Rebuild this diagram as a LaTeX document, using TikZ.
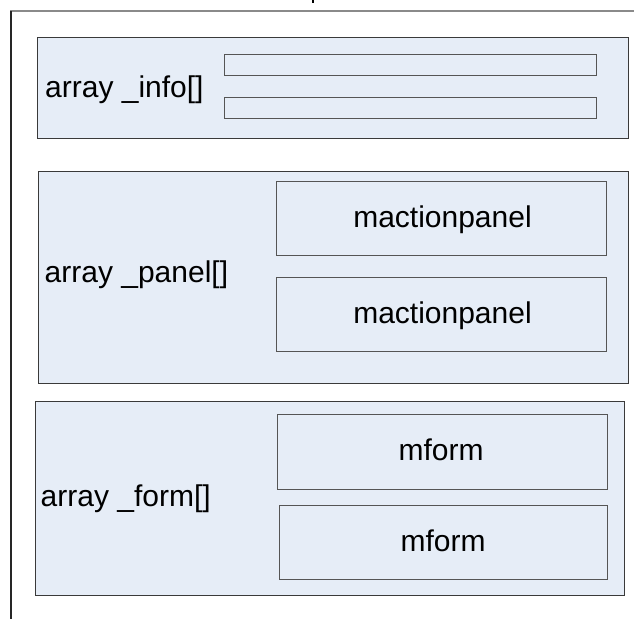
\documentclass[tikz,border=0pt]{standalone}
\usepackage{fontspec}
\setmainfont{Liberation Sans}
\begin{document}
\begin{tikzpicture}[x=1pt,y=-1pt,
  panelfill/.style={fill=boxblue},
  outerbox/.style={panelfill,draw=edgegray,line width=1.4pt},
  innerbox/.style={panelfill,draw=inneredge,line width=1.2pt},
  label/.style={font=\fontsize{30}{33}\selectfont,inner sep=0pt,text=black},
  centered/.style={label,text height=22pt,text depth=6pt}]
\definecolor{boxblue}{HTML}{E6EDF7}
\definecolor{edgegray}{HTML}{3A3A3A}
\definecolor{inneredge}{HTML}{555555}
\definecolor{framegray}{HTML}{8A8A8A}
\useasboundingbox (0,0) rectangle (634,619);
\fill[white] (0,0) rectangle (634,619);

% enclosing frame, cut at the top and the right
\draw[framegray,line width=2pt] (10,11) -- (634,11);
\draw[black!85,line width=1.4pt] (11,11) -- (11,619);
\draw[black,line width=2pt] (313,0) -- (313,3);

% array_info block
\node[outerbox,minimum width=591pt,minimum height=101pt,anchor=north west,inner sep=0pt] (info) at (37,37) {};
\node[innerbox,minimum width=372pt,minimum height=21pt,anchor=north west,inner sep=0pt] (info1) at (223.5,53.5) {};
\node[innerbox,minimum width=372pt,minimum height=21pt,anchor=north west,inner sep=0pt] (info2) at (223.5,96.5) {};
\node[label,anchor=base west] (infotext) at (45,97) {array \_info[]};

% array_panel block
\node[outerbox,minimum width=590pt,minimum height=212pt,anchor=north west,inner sep=0pt] (panel) at (37.5,170.5) {};
\node[innerbox,minimum width=330pt,minimum height=74pt,anchor=north west,inner sep=0pt] (panel1) at (276,181) {};
\node[innerbox,minimum width=330pt,minimum height=74pt,anchor=north west,inner sep=0pt] (panel2) at (276,277) {};
\node[label,anchor=base west] (paneltext) at (44.5,282.5) {array \_panel[]};
\node[centered] (panel1text) at (442.5,219) {mactionpanel};
\node[centered] (panel2text) at (442.5,315) {mactionpanel};

% array_form block
\node[outerbox,minimum width=589pt,minimum height=194pt,anchor=north west,inner sep=0pt] (form) at (35,401) {};
\node[innerbox,minimum width=330pt,minimum height=75pt,anchor=north west,inner sep=0pt] (form1) at (277,414) {};
\node[innerbox,minimum width=328pt,minimum height=74pt,anchor=north west,inner sep=0pt] (form2) at (279,505) {};
\node[label,anchor=base west] (formtext) at (40.5,506.5) {array \_form[]};
\node[centered] (form1text) at (441,452) {mform};
\node[centered] (form2text) at (443,543) {mform};
\end{tikzpicture}
\end{document}
